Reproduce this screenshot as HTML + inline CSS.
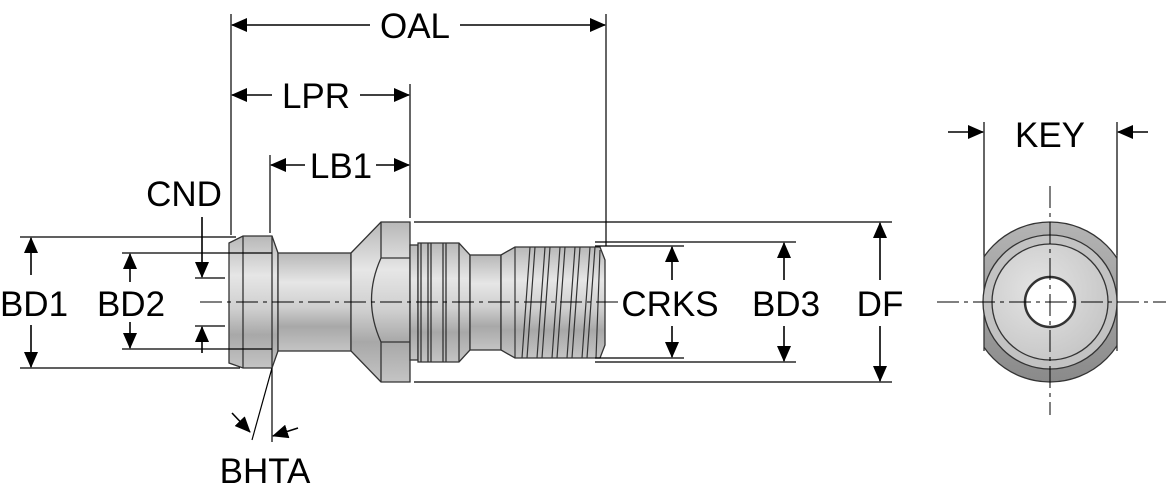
<!DOCTYPE html>
<html><head><meta charset="utf-8"><style>
html,body{margin:0;padding:0;background:#fff;width:1166px;height:500px;overflow:hidden}
text{font-family:"Liberation Sans",sans-serif;font-size:35px;fill:#000}
</style></head><body>
<svg width="1166" height="500" viewBox="0 0 1166 500" xmlns="http://www.w3.org/2000/svg">
<defs>
<linearGradient id="g" x1="0" y1="0" x2="0" y2="1">
<stop offset="0" stop-color="#b8b8b8"/><stop offset="0.3" stop-color="#e6e6e6"/><stop offset="0.55" stop-color="#cfcfcf"/><stop offset="0.75" stop-color="#a8a8a8"/><stop offset="1" stop-color="#c4c4c4"/>
</linearGradient>
<linearGradient id="o" x1="0" y1="0" x2="0" y2="1">
<stop offset="0" stop-color="#b4b4b4"/><stop offset="0.5" stop-color="#a0a0a0"/><stop offset="1" stop-color="#8a8a8a"/>
</linearGradient>
<marker id="b" markerWidth="16" markerHeight="14" refX="15" refY="7" orient="auto" markerUnits="userSpaceOnUse"><path d="M0,0 L16,7 L0,14 z" fill="#000"/></marker>
<clipPath id="c"><rect x="984" y="200" width="133" height="210"/></clipPath>
<radialGradient id="r" cx="0.4" cy="0.4" r="0.7"><stop offset="0" stop-color="#e4e4e4"/><stop offset="1" stop-color="#c4c4c4"/></radialGradient>
</defs>
<g stroke="#333" stroke-width="1.3" fill="url(#g)">
<path d="M229,243 L243,236 L272,236 L278,253 L278,351 L272,368 L243,368 L229,363 Z"/>
<line x1="243" y1="236" x2="243" y2="368"/>
<line x1="272" y1="236" x2="272" y2="368"/>
<rect x="278" y="253" width="73" height="98"/>
<path d="M351,253 L381,222 L410,222 L410,382 L381,382 L351,351 Z"/>
<path d="M381,222 L381,258 Q362,300 381,342 L381,382" fill="none"/>
<line x1="381" y1="258" x2="410" y2="258"/><line x1="381" y1="342" x2="410" y2="342"/>
<rect x="410" y="245" width="8" height="115"/>
<path d="M418,243 L459,243 L470,255 L470,350 L459,362 L418,362 Z"/>
<line x1="421" y1="243" x2="421" y2="362"/><line x1="428" y1="243" x2="428" y2="362"/><line x1="431" y1="243" x2="431" y2="362"/><line x1="443" y1="243" x2="443" y2="362"/><line x1="446" y1="243" x2="446" y2="362"/><line x1="459" y1="243" x2="459" y2="362"/>
<rect x="470" y="255" width="31" height="95"/>
<path d="M501,255 L515,247 L600,247 L605,260 L605,345 L600,358 L515,358 L501,350 Z"/>
<g fill="none" stroke-width="1.2">
<path d="M530,247 L522,358 M545,247 L537,358 M560,247 L552,358 M575,247 L567,358 M590,247 L582,358 M600,250 L596,358"/>
<path d="M535,247 L527,358 M550,247 L542,358 M565,247 L557,358 M580,247 L572,358 M595,247 L587,358"/>
<line x1="515" y1="247" x2="515" y2="358"/>
</g>
</g>
<line x1="200" y1="302" x2="620" y2="302" stroke="#000" stroke-width="1" stroke-dasharray="22,5,4,5"/>
<g stroke="#000" stroke-width="1.2" fill="none">
<line x1="231" y1="14" x2="231" y2="235"/>
<line x1="606" y1="14" x2="606" y2="246"/>
<line x1="410" y1="84" x2="410" y2="218"/>
<line x1="270" y1="155" x2="270" y2="233"/>
<line x1="20" y1="237" x2="236" y2="237"/>
<line x1="20" y1="368" x2="240" y2="368"/>
<line x1="122" y1="253" x2="272" y2="253"/>
<line x1="122" y1="349" x2="272" y2="349"/>
<line x1="195" y1="278" x2="225" y2="278"/>
<line x1="195" y1="326" x2="225" y2="326"/>
<line x1="414" y1="222" x2="892" y2="222"/>
<line x1="414" y1="382" x2="892" y2="382"/>
<line x1="595" y1="242" x2="796" y2="242"/>
<line x1="595" y1="362" x2="796" y2="362"/>
<line x1="595" y1="246" x2="684" y2="246"/>
<line x1="595" y1="358" x2="684" y2="358"/>
<line x1="272" y1="368" x2="272" y2="442"/>
<line x1="272" y1="368" x2="252" y2="440"/>
<line x1="984" y1="122" x2="984" y2="255"/>
<line x1="1117" y1="122" x2="1117" y2="255"/>
</g>
<g stroke="#000" stroke-width="1.6" fill="none">
<line x1="370" y1="25" x2="232" y2="25" marker-end="url(#b)"/>
<line x1="460" y1="25" x2="605" y2="25" marker-end="url(#b)"/>
<line x1="272" y1="95" x2="232" y2="95" marker-end="url(#b)"/>
<line x1="360" y1="95" x2="409" y2="95" marker-end="url(#b)"/>
<line x1="305" y1="165" x2="271" y2="165" marker-end="url(#b)"/>
<line x1="376" y1="165" x2="409" y2="165" marker-end="url(#b)"/>
<line x1="31" y1="275" x2="31" y2="238" marker-end="url(#b)"/>
<line x1="31" y1="325" x2="31" y2="367" marker-end="url(#b)"/>
<line x1="130" y1="282" x2="130" y2="254" marker-end="url(#b)"/>
<line x1="130" y1="322" x2="130" y2="348" marker-end="url(#b)"/>
<line x1="202" y1="217" x2="202" y2="277" marker-end="url(#b)"/>
<line x1="202" y1="353" x2="202" y2="327" marker-end="url(#b)"/>
<line x1="672" y1="280" x2="672" y2="247" marker-end="url(#b)"/>
<line x1="672" y1="326" x2="672" y2="357" marker-end="url(#b)"/>
<line x1="784" y1="280" x2="784" y2="243" marker-end="url(#b)"/>
<line x1="784" y1="326" x2="784" y2="361" marker-end="url(#b)"/>
<line x1="880" y1="280" x2="880" y2="223" marker-end="url(#b)"/>
<line x1="880" y1="326" x2="880" y2="381" marker-end="url(#b)"/>
<line x1="232" y1="413" x2="250" y2="432" marker-end="url(#b)"/>
<line x1="298" y1="428" x2="273" y2="436" marker-end="url(#b)"/>
<line x1="948" y1="132" x2="983" y2="132" marker-end="url(#b)"/>
<line x1="1148" y1="132" x2="1118" y2="132" marker-end="url(#b)"/>
</g>
<g text-anchor="middle">
<text x="415" y="38">OAL</text>
<text x="316" y="108">LPR</text>
<text x="341" y="178">LB1</text>
<text x="184" y="206">CND</text>
<text x="34" y="316">BD1</text>
<text x="131" y="316">BD2</text>
<text x="670" y="316">CRKS</text>
<text x="786" y="316">BD3</text>
<text x="880" y="316">DF</text>
<text x="265" y="483">BHTA</text>
<text x="1050" y="147">KEY</text>
</g>
<g clip-path="url(#c)">
<circle cx="1050" cy="302" r="80" fill="url(#o)" stroke="#333" stroke-width="1.3"/>
</g>
<line x1="984" y1="253" x2="984" y2="351" stroke="#333" stroke-width="1.3"/>
<line x1="1117" y1="253" x2="1117" y2="351" stroke="#333" stroke-width="1.3"/>
<circle cx="1050" cy="302" r="67" fill="#c2c2c2" stroke="#333" stroke-width="1.3"/>
<circle cx="1050" cy="302" r="58" fill="url(#r)" stroke="#333" stroke-width="1.3"/>
<circle cx="1050" cy="302" r="25" fill="#fff" stroke="#333" stroke-width="2.5"/>
<g stroke="#000" stroke-width="1" stroke-dasharray="22,5,4,5">
<line x1="937" y1="302" x2="1166" y2="302"/>
<line x1="1050" y1="186" x2="1050" y2="415"/>
</g>
</svg>
</body></html>
